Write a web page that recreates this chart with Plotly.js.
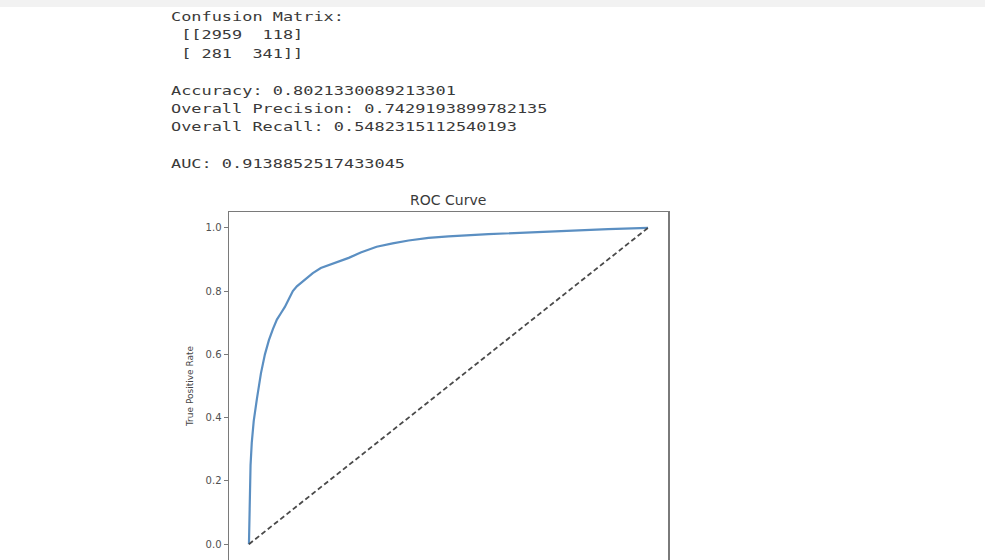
<!DOCTYPE html>
<html>
<head>
<meta charset="utf-8">
<script src="https://cdn.plot.ly/plotly-3.0.1.min.js"></script>
<style>
  html, body { margin: 0; padding: 0; background: #ffffff; width: 985px; height: 560px; overflow: hidden; }
  #strip { position: absolute; left: 0; top: 0; width: 985px; height: 7px; background: #f2f2f2; z-index: 2; }
  #out { position: absolute; left: 171px; top: 8px; margin: 0; font-family: "DejaVu Sans Mono", "Liberation Mono", monospace;
         font-size: 13px; line-height: 18.4px; color: #3a3a3a; transform: scaleX(1.3); transform-origin: left top; z-index: 3; white-space: pre; }
  #chart { position: absolute; left: 0; top: 0; width: 985px; height: 600px; }
</style>
</head>
<body>
<div id="strip"></div>
<pre id="out"></pre>
<div id="chart"></div>
<script>
// Printed results
const confusionMatrix = [[2959, 118], [281, 341]];
const accuracy = "0.8021330089213301";
const overallPrecision = "0.7429193899782135";
const overallRecall = "0.5482315112540193";
const aucValue = "0.9138852517433045";

// ROC curve values
const fpr = [0, 0.001, 0.002, 0.004, 0.007, 0.012, 0.02, 0.03, 0.04, 0.05, 0.06, 0.07, 0.08, 0.09, 0.10, 0.11, 0.12, 0.14, 0.16, 0.18, 0.20, 0.22, 0.25, 0.28, 0.32, 0.36, 0.40, 0.45, 0.50, 0.60, 0.70, 0.80, 0.90, 1.0];
const tpr = [0, 0.08, 0.16, 0.25, 0.32, 0.39, 0.46, 0.54, 0.60, 0.645, 0.68, 0.71, 0.73, 0.75, 0.775, 0.80, 0.815, 0.837, 0.857, 0.873, 0.882, 0.89, 0.905, 0.922, 0.94, 0.951, 0.96, 0.968, 0.973, 0.98, 0.986, 0.992, 0.996, 1.0];
const chanceX = [0, 1];
const chanceY = [0, 1];
const yTicks = [0, 0.2, 0.4, 0.6, 0.8, 1.0];
const xTicks = [0, 0.2, 0.4, 0.6, 0.8, 1.0];

const cell = (v) => String(v).padStart(4, " ");
document.getElementById("out").textContent =
  "Confusion Matrix:\n" +
  " [[" + confusionMatrix[0].map(cell).join(" ") + "]\n" +
  " [" + confusionMatrix[1].map(cell).join(" ") + "]]\n" +
  "\n" +
  "Accuracy: " + accuracy + "\n" +
  "Overall Precision: " + overallPrecision + "\n" +
  "Overall Recall: " + overallRecall + "\n" +
  "\n" +
  "AUC: " + aucValue;

const traces = [
  { x: fpr, y: tpr, type: "scatter", mode: "lines", line: { color: "#5b8fc2", width: 2.2 }, hoverinfo: "skip" },
  { x: chanceX, y: chanceY, type: "scatter", mode: "lines", line: { color: "#4a4a4a", width: 1.8, dash: "5px,3px" }, hoverinfo: "skip" }
];

const axisCommon = {
  range: [-0.05, 1.05], showgrid: false, zeroline: false, showline: true, mirror: true,
  linecolor: "#7a7a7a", linewidth: 1.5, ticks: "outside", ticklen: 4, tickcolor: "#7a7a7a",
  tickfont: { family: "DejaVu Sans, sans-serif", size: 10, color: "#505050" }, tickformat: ".1f", tickmode: "array"
};

const layout = {
  width: 985, height: 600,
  margin: { l: 229, r: 317, t: 212, b: 40 },
  paper_bgcolor: "rgba(0,0,0,0)", plot_bgcolor: "#ffffff",
  showlegend: false,
  title: { text: "ROC Curve", x: 0.455, xanchor: "center", y: 1 - 200 / 600, yanchor: "middle",
           font: { family: "DejaVu Sans, sans-serif", size: 14, color: "#3a3a3a" } },
  xaxis: Object.assign({}, axisCommon, { tickvals: xTicks, showticklabels: false }),
  yaxis: Object.assign({}, axisCommon, { tickvals: yTicks,
           title: { text: "True Positive Rate", standoff: 10, font: { family: "DejaVu Sans, sans-serif", size: 9, color: "#444444" } } })
};

Plotly.newPlot("chart", traces, layout, { staticPlot: true, displayModeBar: false });
</script>
</body>
</html>
